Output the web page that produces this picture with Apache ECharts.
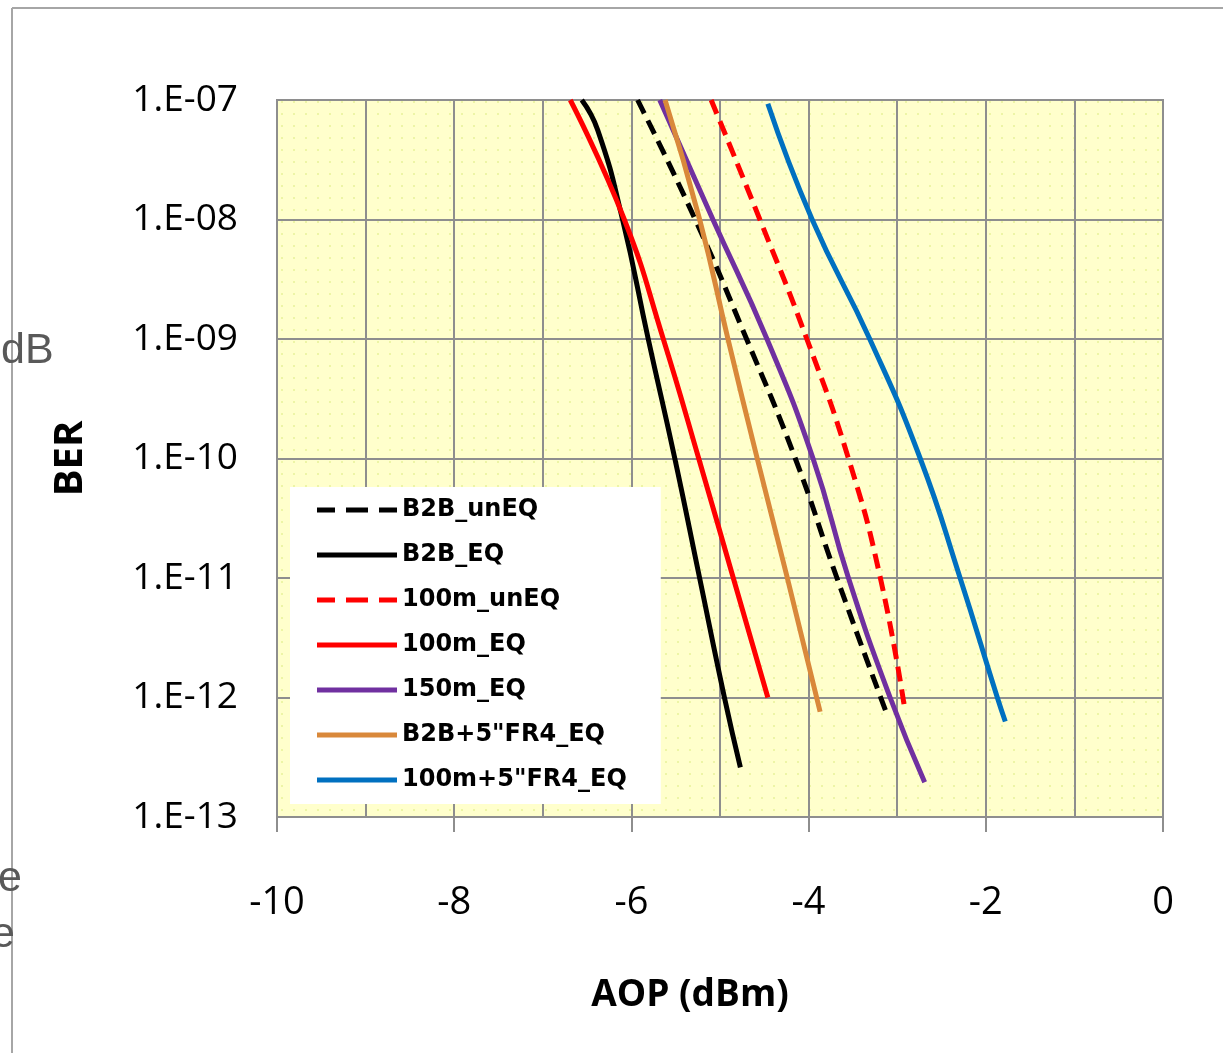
<!DOCTYPE html>
<html><head><meta charset="utf-8">
<script src="https://cdn.jsdelivr.net/npm/echarts@6/dist/echarts.min.js"></script>
<style>html,body{margin:0;padding:0;background:#fff;overflow:hidden}#c{width:1223px;height:1053px}</style>
</head><body><div id="c"></div>
<script>
// ---- data (AOP in dBm, BER) ----
const seriesNames = ['B2B_unEQ', 'B2B_EQ', '100m_unEQ', '100m_EQ', '150m_EQ', 'B2B+5"FR4_EQ', '100m+5"FR4_EQ'];
const b2bUnEQ   = [[-5.93, 1e-7], [-5.28, 1e-8], [-4.70, 1e-9], [-4.15, 1e-10], [-3.68, 1e-11], [-3.12, 7.4e-13]];
const b2bEQ     = [[-6.56, 1e-7], [-6.38, 5.6e-8], [-6.10, 1e-8], [-5.81, 1e-9], [-5.51, 1e-10], [-5.23, 1e-11], [-4.95, 1e-12], [-4.77, 2.6e-13]];
const m100UnEQ  = [[-5.10, 1e-7], [-4.55, 1e-8], [-4.02, 1e-9], [-3.55, 1e-10], [-3.19, 1e-11], [-2.91, 7.6e-13]];
const m100EQ    = [[-6.69, 1e-7], [-6.08, 1e-8], [-5.64, 1e-9], [-5.24, 1e-10], [-4.85, 1e-11], [-4.46, 1e-12]];
const m150EQ    = [[-5.68, 1e-7], [-5.08, 1e-8], [-4.47, 1e-9], [-3.95, 1e-10], [-3.55, 1e-11], [-3.08, 1e-12], [-2.69, 1.95e-13]];
const b2bFr4EQ  = [[-5.62, 1e-7], [-5.23, 1e-8], [-4.91, 1e-9], [-4.58, 1e-10], [-4.24, 1e-11], [-3.87, 7.6e-13]];
const m100Fr4EQ = [[-4.46, 9.3e-8], [-3.96, 1e-8], [-3.31, 1e-9], [-2.74, 1e-10], [-2.29, 1e-11], [-1.87, 1e-12], [-1.78, 6.3e-13]];
const seriesData = [b2bUnEQ, b2bEQ, m100UnEQ, m100EQ, m150EQ, b2bFr4EQ, m100Fr4EQ];
const seriesColors = ['#000000', '#000000', '#FF0000', '#FF0000', '#7030A0', '#D9883A', '#0070C0'];
const seriesDashed = [true, false, true, false, false, false, false];
const xTicks = [-10, -8, -6, -4, -2, 0];
const yTickExponents = [-7, -8, -9, -10, -11, -12, -13];
const yTickLabels = ['1.E-07', '1.E-08', '1.E-09', '1.E-10', '1.E-11', '1.E-12', '1.E-13'];

// dotted plot-area background
const pc = document.createElement('canvas');
pc.width = 12; pc.height = 12;
const g = pc.getContext('2d');
g.fillStyle = '#FFFFCC'; g.fillRect(0, 0, 12, 12);
g.fillStyle = '#EDF5A6'; g.fillRect(5, 5, 2, 2);

const iconSolid = 'path://M0,0H80V5H0Z';
const iconDashed = 'path://M0,0H18V5H0Z M29,0H51V5H29Z M62,0H80V5H62Z';

const gridGray = '#8E8E8E';
const chart = echarts.init(document.getElementById('c'), null, { renderer: 'canvas' });
chart.setOption({
  animation: false,
  backgroundColor: '#ffffff',
  grid: {
    left: 277, right: 60, top: 100, bottom: 236,
    show: true, borderColor: gridGray, borderWidth: 2,
    backgroundColor: { image: pc, repeat: 'repeat' }
  },
  legend: {
    show: true, orient: 'vertical', left: 290, top: 487,
    backgroundColor: '#ffffff',
    padding: [8, 34, 9, 27],
    itemWidth: 80, itemHeight: 5, itemGap: 15,
    textStyle: { fontFamily: 'DejaVu Sans', fontWeight: 'bold', fontSize: 24, color: '#000', lineHeight: 30 },
    data: seriesNames.map((n, i) => ({ name: n, icon: seriesDashed[i] ? iconDashed : iconSolid, itemStyle: { color: seriesColors[i] } }))
  },
  xAxis: {
    type: 'value', min: xTicks[0], max: xTicks[xTicks.length - 1], interval: 2,
    name: 'AOP (dBm)', nameLocation: 'middle', nameGap: 160,
    nameTextStyle: { fontFamily: 'Open Sans', fontWeight: 'bold', fontSize: 37, color: '#000', padding: [0, 60, 0, 0] },
    axisLine: { show: true, lineStyle: { color: gridGray, width: 2 } },
    axisTick: { show: true, inside: false, length: 15, lineStyle: { color: gridGray, width: 2 } },
    axisLabel: { margin: 67, fontFamily: 'Open Sans', fontSize: 38, color: '#000' },
    splitLine: { show: true, lineStyle: { color: gridGray, width: 2 } },
    minorTick: { show: false, splitNumber: 2 },
    minorSplitLine: { show: true, lineStyle: { color: gridGray, width: 2 } }
  },
  yAxis: {
    type: 'log', logBase: 10, min: 1e-13, max: 1e-7,
    name: 'BER', nameLocation: 'middle', nameGap: 186, nameRotate: 90,
    nameTextStyle: { fontFamily: 'Open Sans', fontWeight: 'bold', fontSize: 40, color: '#000' },
    axisLine: { show: true, lineStyle: { color: gridGray, width: 2 } },
    axisTick: { show: true, inside: false, length: 13, lineStyle: { color: gridGray, width: 2 } },
    axisLabel: {
      margin: 39, fontFamily: 'Open Sans', fontSize: 37, color: '#000',
      formatter: v => yTickLabels[yTickExponents.indexOf(Math.round(Math.log10(v)))]
    },
    splitLine: { show: true, lineStyle: { color: gridGray, width: 2 } }
  },
  series: seriesNames.map((n, i) => ({
    name: n, type: 'line', data: seriesData[i],
    showSymbol: false, symbol: 'none', smooth: 0.5,
    color: seriesColors[i],
    lineStyle: { color: seriesColors[i], width: 5, type: seriesDashed[i] ? [15, 8] : 'solid' }
  })),
  graphic: [
    { type: 'line', z: 100, shape: { x1: 12, y1: 8, x2: 1223, y2: 8 }, style: { stroke: '#A6A6A6', lineWidth: 2 } },
    { type: 'line', z: 100, shape: { x1: 12, y1: 8, x2: 12, y2: 1053 }, style: { stroke: '#A6A6A6', lineWidth: 2 } },
    { type: 'text', z: 101, left: 1, top: 330, style: { text: 'dB', fill: '#595959', font: '43px "Liberation Sans"' } },
    { type: 'text', z: 101, left: -2, top: 858, style: { text: 'e', fill: '#595959', font: '43px "Liberation Sans"' } },
    { type: 'text', z: 101, left: -9, top: 914, style: { text: 'e', fill: '#595959', font: '43px "Liberation Sans"' } }
  ]
});
</script>
</body></html>
